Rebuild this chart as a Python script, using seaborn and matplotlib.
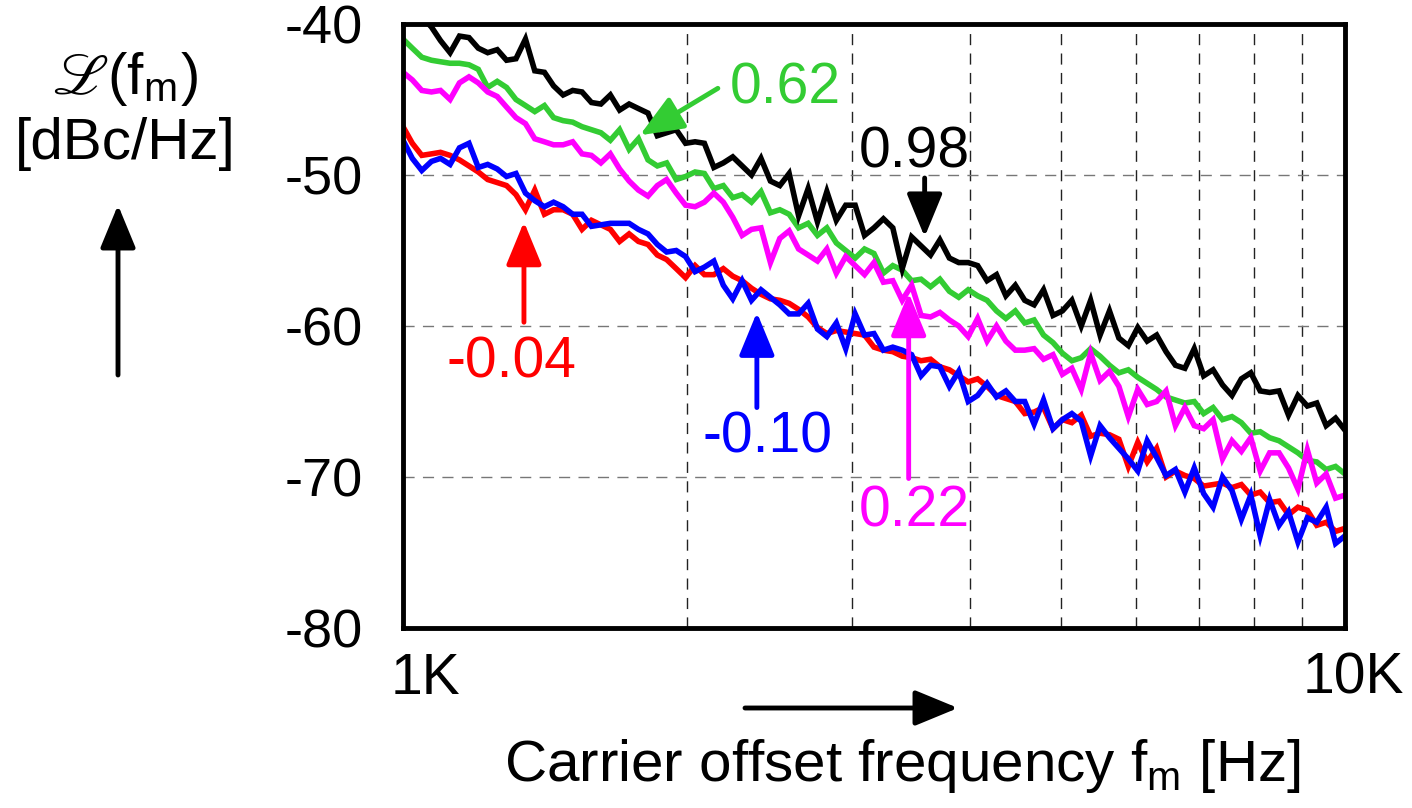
import matplotlib
matplotlib.use("Agg")
import matplotlib.pyplot as plt
from matplotlib.ticker import NullFormatter
from matplotlib.transforms import ScaledTranslation
import numpy as np
import pandas as pd
import seaborn as sns

# carrier offset frequency [Hz]
freq = [1000, 1023, 1047, 1072, 1096, 1122, 1148, 1175, 1202, 1230,
        1259, 1288, 1318, 1349, 1380, 1413, 1445, 1479, 1514, 1549,
        1585, 1622, 1660, 1698, 1738, 1778, 1820, 1862, 1905, 1950,
        1995, 2042, 2089, 2138, 2188, 2239, 2291, 2344, 2399, 2455,
        2512, 2570, 2630, 2692, 2754, 2818, 2884, 2951, 3020, 3090,
        3162, 3236, 3311, 3388, 3467, 3548, 3631, 3715, 3802, 3890,
        3981, 4074, 4169, 4266, 4365, 4467, 4571, 4677, 4786, 4898,
        5012, 5129, 5248, 5370, 5495, 5623, 5754, 5888, 6026, 6166,
        6310, 6457, 6607, 6761, 6918, 7079, 7244, 7413, 7586, 7762,
        7943, 8128, 8318, 8511, 8710, 8913, 9120, 9333, 9550, 9772, 10000]

# phase noise L(fm) [dBc/Hz] for each ratio
pn_098 = [-38.5, -39.0, -39.5, -40.2, -41.1, -41.9, -40.8, -40.9, -41.6, -41.9,
          -41.7, -42.4, -42.3, -41.0, -43.1, -43.2, -44.1, -44.7, -44.4, -44.5,
          -45.2, -45.3, -44.7, -45.7, -45.3, -45.6, -45.9, -47.4, -47.2, -47.0,
          -47.9, -47.8, -47.9, -49.5, -49.2, -48.8, -49.4, -50.0, -48.9, -50.4,
          -50.7, -49.9, -52.7, -50.9, -53.1, -51.1, -53.0, -52.0, -52.0, -54.0,
          -53.5, -52.9, -53.5, -56.2, -54.1, -54.7, -55.3, -54.3, -55.5, -55.8,
          -55.8, -56.0, -57.0, -56.6, -58.0, -57.3, -58.3, -58.6, -57.6, -59.3,
          -59.0, -58.3, -60.0, -58.3, -60.6, -59.0, -60.8, -61.3, -60.1, -61.0,
          -60.6, -61.7, -62.6, -62.8, -61.5, -63.3, -62.9, -63.9, -64.6, -63.5,
          -63.1, -64.3, -64.4, -64.3, -65.9, -64.6, -65.3, -65.1, -66.6, -66.1, -66.9]

pn_062 = [-41.0, -41.6, -42.2, -42.4, -42.5, -42.6, -42.6, -42.7, -43.0, -44.2,
          -43.8, -44.2, -45.0, -45.4, -45.8, -45.4, -46.2, -46.4, -46.5, -46.8,
          -47.0, -47.2, -47.7, -47.0, -48.3, -47.6, -49.0, -49.4, -49.2, -50.3,
          -50.1, -49.8, -49.9, -50.9, -50.7, -51.5, -51.3, -51.8, -51.1, -52.5,
          -52.3, -52.6, -53.5, -53.2, -54.0, -53.5, -54.5, -55.0, -55.5, -54.9,
          -55.2, -56.5, -56.0, -56.3, -57.0, -56.9, -57.4, -56.9, -57.7, -58.1,
          -57.6, -58.0, -58.3, -59.0, -59.5, -59.0, -59.8, -59.6, -60.6, -61.1,
          -61.8, -62.3, -62.1, -61.5, -62.0, -62.6, -63.1, -62.9, -63.4, -63.8,
          -64.2, -64.7, -64.9, -65.1, -65.0, -65.8, -65.4, -66.2, -66.0, -66.4,
          -67.1, -67.0, -67.4, -67.6, -68.0, -68.4, -68.9, -69.0, -69.5, -69.3, -69.8]

pn_022 = [-43.2, -43.7, -44.4, -44.5, -44.4, -45.0, -43.9, -43.5, -43.9, -44.5,
          -44.8, -45.5, -46.2, -46.6, -47.6, -47.8, -48.0, -48.0, -47.8, -48.6,
          -48.7, -49.2, -48.6, -49.6, -50.4, -51.0, -51.4, -50.7, -50.3, -51.2,
          -52.0, -52.1, -51.8, -51.2, -51.8, -52.8, -54.0, -53.6, -53.5, -55.8,
          -54.2, -53.7, -54.9, -55.3, -55.7, -54.9, -56.5, -55.4, -56.0, -56.6,
          -55.8, -57.1, -57.0, -58.3, -57.3, -59.3, -59.4, -59.1, -59.6, -60.0,
          -60.7, -59.5, -61.0, -60.0, -61.0, -61.6, -61.6, -61.5, -62.2, -61.9,
          -63.2, -62.8, -64.2, -61.8, -63.6, -63.0, -64.0, -66.0, -64.2, -65.2,
          -65.0, -64.3, -66.6, -65.4, -66.6, -66.8, -66.2, -68.8, -67.6, -68.3,
          -67.4, -69.6, -68.4, -68.4, -69.4, -70.8, -68.2, -70.4, -69.8, -71.4, -71.2]

pn_m004 = [-46.8, -47.9, -48.7, -48.6, -48.5, -48.7, -49.0, -49.4, -49.8, -50.3,
           -50.5, -50.7, -51.3, -52.3, -51.0, -52.6, -52.3, -52.3, -52.6, -53.6,
           -53.0, -53.3, -53.6, -54.4, -53.9, -54.4, -54.6, -55.3, -55.6, -56.2,
           -56.8, -56.0, -56.6, -56.6, -56.2, -56.7, -57.0, -57.5, -57.9, -58.2,
           -58.3, -58.5, -58.9, -59.4, -60.1, -60.5, -60.3, -60.4, -60.5, -60.6,
           -61.4, -61.6, -61.7, -62.0, -62.1, -62.3, -62.2, -62.7, -62.9, -63.3,
           -63.7, -63.5, -64.0, -64.6, -64.8, -65.0, -65.8, -65.7, -65.4, -66.8,
           -66.2, -66.4, -65.9, -67.3, -67.1, -67.2, -67.5, -69.3, -67.7, -69.0,
           -68.1, -70.0, -69.6, -69.9, -70.1, -70.6, -70.5, -70.4, -70.7, -70.5,
           -71.2, -71.0, -71.7, -71.6, -72.5, -72.0, -72.2, -73.2, -73.0, -73.6, -73.4]

pn_m010 = [-47.7, -48.9, -49.7, -49.1, -48.9, -49.3, -48.2, -47.9, -49.5, -49.3,
           -49.6, -50.1, -49.9, -51.2, -51.7, -52.1, -51.8, -52.1, -52.6, -52.6,
           -53.4, -53.3, -53.2, -53.2, -53.2, -53.6, -53.9, -54.6, -55.1, -55.0,
           -55.4, -56.4, -56.1, -55.7, -57.3, -58.2, -57.0, -58.3, -57.6, -58.1,
           -58.6, -59.2, -59.2, -58.5, -60.2, -60.7, -59.8, -61.5, -59.2, -60.6,
           -60.5, -61.6, -61.4, -61.6, -61.9, -63.3, -62.6, -62.7, -64.0, -63.0,
           -65.0, -64.6, -63.8, -64.7, -64.3, -65.0, -65.0, -66.5, -64.9, -66.8,
           -66.2, -65.8, -66.3, -68.6, -66.6, -67.4, -68.1, -68.8, -69.6, -67.6,
           -68.7, -69.9, -69.5, -71.0, -69.4, -71.1, -72.0, -70.0, -70.9, -72.8,
           -71.2, -73.9, -71.5, -73.2, -72.3, -74.3, -72.7, -73.0, -72.0, -74.4, -73.9]

ratios = ["-0.04", "-0.10", "0.62", "0.22", "0.98"]
colors = {"-0.04": "#ff0000", "-0.10": "#0000ff", "0.62": "#33cc33",
          "0.22": "#ff00ff", "0.98": "#000000"}
curves = {"-0.04": pn_m004, "-0.10": pn_m010, "0.62": pn_062,
          "0.22": pn_022, "0.98": pn_098}

df = pd.concat([pd.DataFrame({"freq": freq, "L": curves[r], "ratio": r}) for r in ratios],
               ignore_index=True)

sns.set_style("white")
plt.rcParams["font.family"] = ["Liberation Sans", "DejaVu Sans"]
plt.rcParams["axes.unicode_minus"] = False
for key in ["text.color", "axes.labelcolor", "xtick.color", "ytick.color"]:
    plt.rcParams[key] = "black"

fig = plt.figure(figsize=(14.12, 8.08), dpi=100)
ax = fig.add_axes([403 / 1412, 180 / 808, 942 / 1412, 604 / 808])

sns.lineplot(data=df, x="freq", y="L", hue="ratio", hue_order=ratios, palette=colors,
             estimator=None, sort=False, legend=False, ax=ax)
# thick traces like the measurement plot
for line in ax.get_lines():
    line.set_linewidth(4.0)
    line.set_solid_joinstyle("miter")

ax.set_xscale("log")
ax.set_xlim(1000, 10000)
ax.set_ylim(-80, -40)
ax.set_xticks([1000, 10000])
ax.set_xticklabels(["1K", "10K"])
ax.set_xticks(list(range(2000, 10000, 1000)), minor=True)
ax.xaxis.set_minor_formatter(NullFormatter())
ax.set_yticks([-80, -70, -60, -50, -40])
ax.set_yticklabels(["-80", "-70", "-60", "-50", "-40"])
ax.tick_params(which="both", length=0, colors="black")
ax.tick_params(axis="y", labelsize=39, pad=29)
ax.tick_params(axis="x", labelsize=41, pad=17)

ax.grid(False)
ax.grid(which="minor", axis="x", color="#222222", lw=1.0, ls=(0, (8, 6)))
ax.grid(which="major", axis="y", color="#777777", lw=1.0, ls=(0, (8, 6)))
ax.set_axisbelow(True)

for s in ax.spines.values():
    s.set_linewidth(3.5)
    s.set_color("black")

# nudge the x tick labels like the original drawing
for lab, dx in zip(ax.get_xticklabels(), [0.22, 0.08]):
    lab.set_transform(lab.get_transform() + ScaledTranslation(dx, 0, fig.dpi_scale_trans))

ax.set_xlabel("Carrier offset frequency f$_\\mathregular{m}$ [Hz]", fontsize=42, color="black")
ax.xaxis.set_label_coords(0.53, -0.18)
ax.set_ylabel("$\\mathscr{L}$(f$_\\mathregular{m}$)\n[dBc/Hz]", fontsize=42, rotation=0,
              ha="center", va="center", math_fontfamily="stix", color="black")
ax.yaxis.set_label_coords(-0.295, 0.857)

# axis direction arrows
big = dict(arrowstyle="-|>,head_length=0.8,head_width=0.33", mutation_scale=33,
           lw=3.5, color="black", shrinkA=0, shrinkB=0)
ax.annotate("", xy=(118, 603), xycoords="figure pixels", xytext=(118, 433),
            textcoords="figure pixels", arrowprops=big)
ax.annotate("", xy=(958, 100), xycoords="figure pixels", xytext=(745, 100),
            textcoords="figure pixels", arrowprops=big)

# curve labels with pointers
labels = [
    ("0.62", (2543, -44.26), (1784, -47.37), (2159, -44.26)),
    ("0.98", (3493, -48.5), (3579, -54.1), (3579, -50.2)),
    ("-0.04", (1305, -62.4), (1344, -53.1), (1344, -59.75)),
    ("-0.10", (2439, -67.4), (2375, -59.1), (2375, -65.4)),
    ("0.22", (3493, -72.3), (3442, -57.8), (3442, -70.1)),
]
for txt, tpos, tip, tail in labels:
    c = colors[txt]
    ax.text(tpos[0], tpos[1], txt, color=c, fontsize=41, ha="center", va="center")
    props = dict(big)
    props["color"] = c
    ax.annotate("", xy=tip, xytext=tail, arrowprops=props)

fig.savefig("out.png", dpi=100)
